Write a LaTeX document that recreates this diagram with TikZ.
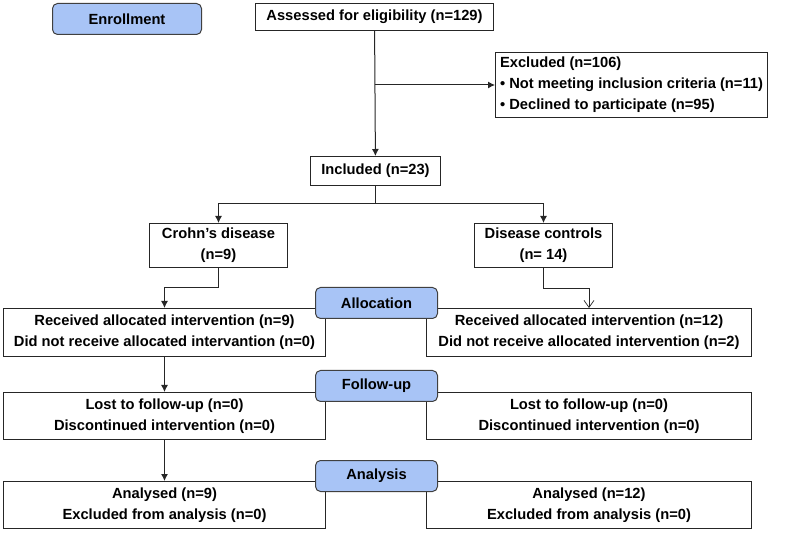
\documentclass[tikz,border=0pt]{standalone}
\usepackage{fontspec}
\setmainfont{Liberation Sans}
\usetikzlibrary{arrows.meta,positioning}
\definecolor{stageblue}{RGB}{168,196,246}

\tikzset{
  box/.style={draw=black!85, line width=1pt, fill=white, inner sep=0pt,
    anchor=north west, align=center, font=\fontsize{14.7}{21}\selectfont\bfseries},
  stage/.style={box, draw=black!75, fill=stageblue, rounded corners=5pt},
  arr/.style={-{Latex[length=7pt,width=7pt]}, line width=1pt, draw=black!85},
  oarr/.style={-{Straight Barb[length=7pt,width=10pt]}, line width=0.7pt, draw=black!85},
}

\begin{document}
\begin{tikzpicture}[x=1pt,y=-1pt]
  \useasboundingbox (0,0) rectangle (790,534);
  % enrollment
  \node[box, minimum width=238, minimum height=27] (assess) at (255,3) {Assessed for eligibility (n=129)};
  \node[box, minimum width=272, minimum height=65, align=left, inner xsep=3pt] (excl) at (495,52)
    {Excluded (n=106)\\\textbullet{} Not meeting inclusion criteria (n=11)\\\textbullet{} Declined to participate (n=95)};
  \node[box, minimum width=130, minimum height=29] (incl) at (310,156) {Included (n=23)};
  % groups
  \node[box, minimum width=138, minimum height=44] (crohn) at (149,223) {Crohn’s disease\\(n=9)};
  \node[box, minimum width=138, minimum height=44] (ctrl) at (474,223) {Disease controls\\(n= 14)};
  % allocation
  \node[box, minimum width=322, minimum height=48] (recvL) at (3,308)
    {Received allocated intervention (n=9)\\Did not receive allocated intervantion (n=0)};
  \node[box, minimum width=325, minimum height=48] (recvR) at (426,308)
    {Received allocated intervention (n=12)\\Did not receive allocated intervention (n=2)};
  % follow-up
  \node[box, minimum width=322, minimum height=47] (fupL) at (3,392)
    {Lost to follow-up (n=0)\\Discontinued intervention (n=0)};
  \node[box, minimum width=325, minimum height=47] (fupR) at (426,392)
    {Lost to follow-up (n=0)\\Discontinued intervention (n=0)};
  % analysis
  \node[box, minimum width=322, minimum height=47] (anaL) at (3,481)
    {Analysed (n=9)\\Excluded from analysis (n=0)};
  \node[box, minimum width=325, minimum height=47] (anaR) at (426,481)
    {Analysed (n=12)\\Excluded from analysis (n=0)};

  \draw[arr] (assess) -- (incl);
  \draw[arr] (assess.south |- excl.west) -- (excl.west);
  \draw[arr] (incl.south) -- ++(0,18) -| (crohn.north);
  \draw[arr] (incl.south) -- ++(0,18) -| (ctrl.north);
  \draw[arr] (crohn.south) -- ++(0,20) -| (recvL.north);
  \draw[oarr] (ctrl.south) -- ++(0,20) -| (recvR.north);
  \draw[arr] (recvL) -- (fupL);
  \draw[arr] (fupL) -- (anaL);

  % stage labels
  \node[stage, minimum width=149, minimum height=31] (enroll) at (52,3) {Enrollment};
  \node[stage, minimum width=122, minimum height=31] (alloc) at (315,287) {Allocation};
  \node[stage, minimum width=122, minimum height=31] (fup) at (315,370) {Follow-up};
  \node[stage, minimum width=122, minimum height=31] (ana) at (315,460) {Analysis};
\end{tikzpicture}
\end{document}
